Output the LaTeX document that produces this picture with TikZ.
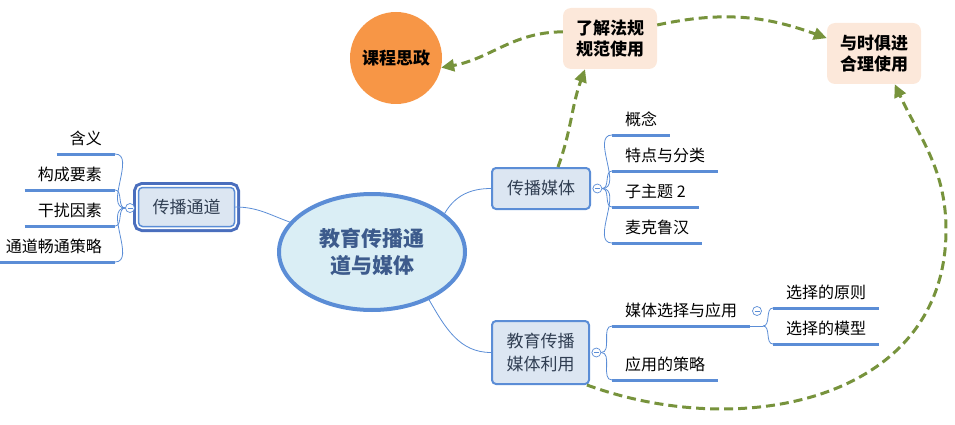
\documentclass[tikz,border=0pt]{standalone}
\usepackage{fontspec}
\setmainfont{Noto Sans CJK SC}
\usepackage{tikz}
\usetikzlibrary{arrows.meta, positioning, shapes.geometric}

\definecolor{linkblue}{HTML}{5B8DD6}
\definecolor{boxfill}{HTML}{DCE6F2}
\definecolor{chandark}{HTML}{4A6EBD}
\definecolor{corefill}{HTML}{DAEEF5}
\definecolor{coretext}{HTML}{3D5B8C}
\definecolor{topictext}{HTML}{303E52}
\definecolor{ideaorange}{HTML}{F79646}
\definecolor{peach}{HTML}{FCE8DA}
\definecolor{arrowgreen}{HTML}{77933C}

\begin{document}
\begin{tikzpicture}[
    x=1pt, y=-1pt,
    link/.style={draw=linkblue, line width=0.8pt},
    leafline/.style={draw=linkblue, line width=3pt},
    topic/.style={
        draw=linkblue,
        line width=2pt,
        rounded corners=4pt,
        fill=boxfill,
        text=topictext,
        align=center,
        inner sep=0pt,
        font=\fontsize{17}{23}\selectfont
    },
    leafR/.style={
        anchor=south west,
        inner xsep=13pt,
        inner ysep=6.5pt,
        text height=11pt,
        text depth=3pt,
        font=\fontsize{16}{20}\selectfont,
        append after command={(\tikzlastnode.south west) edge[leafline] (\tikzlastnode.south east)}
    },
    leafL/.style={leafR, anchor=south east},
    fold/.style={
        circle,
        draw=linkblue,
        line width=0.7pt,
        fill=white,
        minimum size=9pt,
        inner sep=0pt,
        path picture={\draw[linkblue, line width=0.7pt] ([xshift=2pt]path picture bounding box.west) -- ([xshift=-2pt]path picture bounding box.east);}
    },
    callout/.style={
        fill=peach,
        rounded corners=8pt,
        minimum width=94pt,
        minimum height=61pt,
        align=center,
        font=\bfseries\fontsize{17}{21}\selectfont
    },
    arrow/.style={draw=arrowgreen, line width=3pt, dash pattern=on 9pt off 5pt, -{Triangle[length=13pt, width=12pt]}}
]
\useasboundingbox (0,0) rectangle (955,425);

% Central topic
\node[ellipse, draw=linkblue, line width=4pt, fill=corefill, minimum width=186pt, minimum height=116pt,
      text=coretext, align=center, font=\bfseries\fontsize{21}{27}\selectfont] (core) at (372,252) {教育传播通\\道与媒体};

% Main topics
\node[topic, line width=1.5pt, minimum width=96pt, minimum height=39pt,
      preaction={draw=chandark, line width=11pt}, preaction={draw=white, line width=5pt}] (channel) at (186.5,207) {传播通道};
\node[topic, minimum width=98pt, minimum height=41pt] (media) at (541,188.5) {传播媒体};
\node[topic, minimum width=97pt, minimum height=63pt] (use) at (540.5,352.5) {教育传播\\媒体利用};

% Fold markers
\node[fold] (chanfold) at (130,208) {};
\node[fold, right=1.5pt of media] (mediafold) {};
\node[fold, right=1.5pt of use] (usefold) {};
\node[fold] (selfold) at (757,311) {};

% Leaves of the channel
\node[leafL] (meaning) at (115,154) {含义};
\node[leafL] (parts) at (115,190) {构成要素};
\node[leafL] (noise) at (115,226) {干扰因素};
\node[leafL] (smooth) at (115,262) {通道畅通策略};

% Leaves of the media
\node[leafR] (concept) at (612,135) {概念};
\node[leafR] (feature) at (612,171) {特点与分类};
\node[leafR] (subtopic) at (612,207) {子主题 2};
\node[leafR] (mcluhan) at (612,243) {麦克鲁汉};

% Leaves of the media use
\node[leafR] (select) at (612,326) {媒体选择与应用};
\node[leafR] (strategy) at (612,380) {应用的策略};
\coordinate (selfork) at (763,326);
\node[leafR] (principle) at (773,308) {选择的原则};
\node[leafR] (model) at (773,344) {选择的模型};

% Callouts
\node[circle, fill=ideaorange, minimum size=92pt, font=\bfseries\fontsize{17}{21}\selectfont] (ideology) at (396,58) {课程思政};
\node[callout] (law) at (610,38.5) {了解法规\\规范使用};
\node[callout] (modern) at (874,53.5) {与时俱进\\合理使用};
\coordinate (loopR) at (946,230);

% Branch links
\draw[link] (channel.east) to[out=0, in=160] (core.160);
\draw[link] (core.28) to[out=60, in=180] (media.west);
\draw[link] (core.-40) to[out=-60, in=180] (use.west);

\foreach \leaf in {meaning, parts, noise, smooth}
    \draw[link] (chanfold) to[out=180, in=0] (\leaf.south east);
\foreach \leaf in {concept, feature, subtopic, mcluhan}
    \draw[link] (mediafold) to[out=0, in=180] (\leaf.south west);
\foreach \leaf in {select, strategy}
    \draw[link] (usefold) to[out=0, in=180] (\leaf.south west);
\draw[link] (select.south east) -- (selfork);
\foreach \leaf in {principle, model}
    \draw[link] (selfork) to[out=0, in=180] (\leaf.south west);

% Dashed relations
\draw[arrow] (law.172) to[out=180, in=10] (ideology.-12);
\draw[arrow] (law.16) to[out=12, in=160] (modern.162);
\draw[arrow] ([xshift=17pt]media.north) to[out=70, in=-110] ([xshift=-25pt]law.south);
\draw[arrow] (use.-35) to[out=-20, in=-90, looseness=1.1] (loopR) to[out=90, in=-65] (modern.-56);

\end{tikzpicture}
\end{document}
